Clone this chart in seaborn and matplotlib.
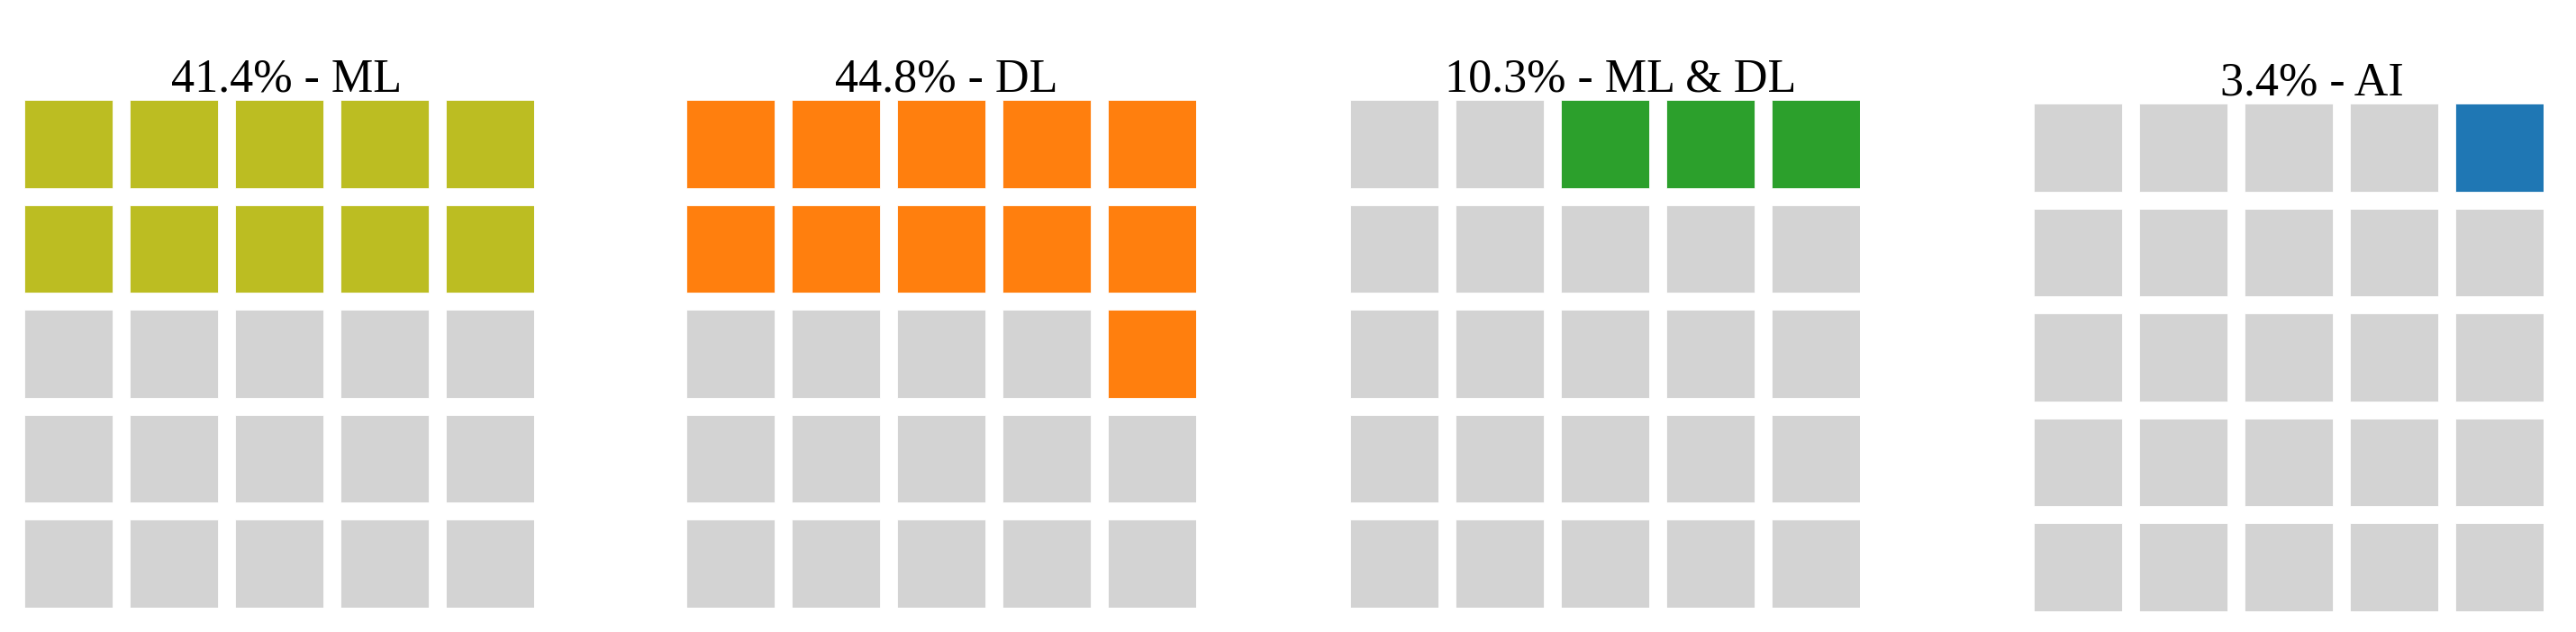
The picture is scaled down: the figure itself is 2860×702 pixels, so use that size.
import matplotlib
matplotlib.use("Agg")
import matplotlib.pyplot as plt
import seaborn as sns
import numpy as np

sns.set_theme(style="white")
plt.rcParams['font.family'] = ['Liberation Serif', 'DejaVu Serif']

# waffle data: 5x5 grid per category
categories = ["ML", "DL", "ML & DL", "AI"]
percents   = [41.4, 44.8, 10.3, 3.4]
filled     = [10, 11, 3, 1]
colors     = ["#bcbd22", "#ff7f0e", "#2ca02c", "#1f77b4"]
empty_color = "#d3d3d3"
n_rows, n_cols = 5, 5

W, H = 2860, 702
fig = plt.figure(figsize=(W / 100, H / 100), dpi=100)

# axes boxes in pixels: left, top, right, bottom
boxes = [(27, 111, 593, 675),
         (762, 111, 1328, 675),
         (1499, 111, 2065, 675),
         (2258, 115, 2824, 679)]
title_x = [0.515, 0.51, 0.53, 0.545]

cw, ch = 0.84, 0.84

for i, (cat, pct, n, col) in enumerate(zip(categories, percents, filled, colors)):
    l, t, r, b = boxes[i]
    ax = fig.add_axes([l / W, 1 - b / H, (r - l) / W, (b - t) / H])
    # fill from top-right, moving left along each row
    order = [(row, c) for row in range(n_rows) for c in range(n_cols - 1, -1, -1)]
    cell_colors = {}
    for k, (row, c) in enumerate(order):
        cell_colors[(row, c)] = col if k < n else empty_color
    for row in range(n_rows):
        xs = np.arange(n_cols)
        ax.bar(xs, ch, bottom=(n_rows - 1 - row), width=cw, align="edge",
               color=[cell_colors[(row, c)] for c in xs],
               edgecolor="white", linewidth=0.6)
    ax.set_xlim(0, n_cols - 1 + cw)
    ax.set_ylim(0, n_rows - 1 + ch)
    ax.set_axis_off()
    ax.set_title(f"{pct}% - {cat}", fontsize=37.5, pad=7, color="black", x=title_x[i])

fig.savefig("out.png", dpi=100, facecolor="white")
